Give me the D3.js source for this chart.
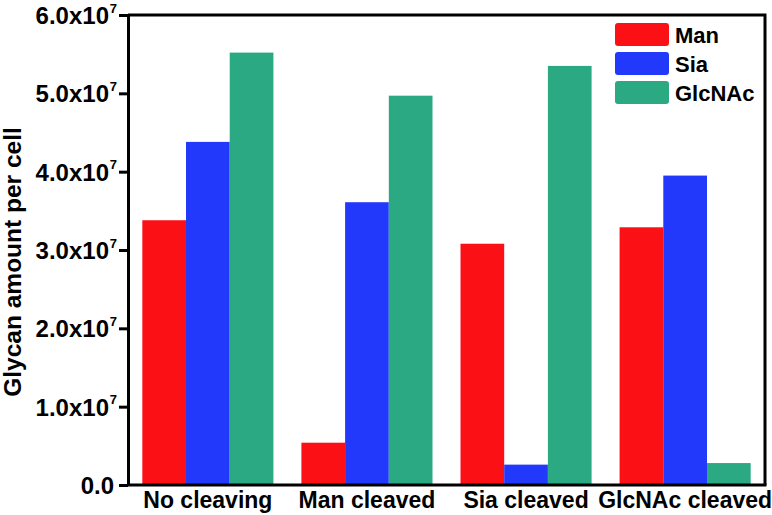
<!DOCTYPE html>
<html>
<head>
<meta charset="utf-8">
<script src="https://cdn.jsdelivr.net/npm/d3@7"></script>
<style>
  body { margin: 0; background: #fff; }
  text { font-family: "Liberation Sans", Arial, sans-serif; font-weight: bold; fill: #000; }
</style>
</head>
<body>
<svg id="chart" width="772" height="515"></svg>
<script>
// DATA
var groups = ['No cleaving', 'Man cleaved', 'Sia cleaved', 'GlcNAc cleaved'];
var seriesNames = ['Man', 'Sia', 'GlcNAc'];
var manValues = [3.38e7, 0.54e7, 3.08e7, 3.29e7];
var siaValues = [4.38e7, 3.61e7, 0.26e7, 3.95e7];
var glcnacValues = [5.52e7, 4.97e7, 5.35e7, 0.28e7];
var yTicks = [0, 1e7, 2e7, 3e7, 4e7, 5e7, 6e7];
var colors = ['#fb1016', '#2238fb', '#2aa982'];

var seriesValues = [manValues, siaValues, glcnacValues];

// build table
var tableData = groups.map(function(g, i) {
  return {
    group: g,
    values: seriesNames.map(function(s, j) { return { key: s, value: seriesValues[j][i] }; })
  };
});

var svg = d3.select('#chart');
var margin = { top: 15, right: 7, bottom: 30, left: 128 };
var W = 772, H = 515;
var width = W - margin.left - margin.right;
var height = H - margin.top - margin.bottom;

var g = svg.append('g')
  .attr('transform', 'translate(' + margin.left + ',' + margin.top + ')');

// SCALES
var x0 = d3.scaleBand()
  .domain(groups)
  .range([0, width])
  .paddingInner(0.176)
  .paddingOuter(0.09);

var x1 = d3.scaleBand()
  .domain(seriesNames)
  .range([0, x0.bandwidth()])
  .padding(0);

var y = d3.scaleLinear()
  .domain([0, 6e7])
  .range([height, 0]);

var color = d3.scaleOrdinal().domain(seriesNames).range(colors);

// BARS
var grp = g.selectAll('.grp')
  .data(tableData)
  .enter().append('g')
  .attr('class', 'grp')
  .attr('transform', function(d) { return 'translate(' + x0(d.group) + ',0)'; });

grp.selectAll('rect')
  .data(function(d) { return d.values; })
  .enter().append('rect')
  .attr('x', function(d) { return x1(d.key); })
  .attr('y', function(d) { return y(d.value); })
  .attr('width', x1.bandwidth())
  .attr('height', function(d) { return height - y(d.value); })
  .attr('fill', function(d) { return color(d.key); });

// FRAME (top + right)
g.append('path')
  .attr('d', 'M0,0H' + width + 'V' + height)
  .attr('fill', 'none')
  .attr('stroke', '#000')
  .attr('stroke-width', 3);

// bottom axis line
g.append('line')
  .attr('x1', 0).attr('x2', width + 1.5)
  .attr('y1', height).attr('y2', height)
  .attr('stroke', '#000')
  .attr('stroke-width', 3);

// Y AXIS
var yAxis = g.append('g')
  .attr('class', 'axis axis--y')
  .call(d3.axisLeft(y).tickValues(yTicks).tickSize(9).tickSizeOuter(0).tickFormat(''));

yAxis.select('.domain').attr('stroke-width', 3);
yAxis.selectAll('.tick line').attr('stroke-width', 3);

yAxis.selectAll('.tick').each(function(d) {
  var t = d3.select(this).append('text')
    .attr('x', d === 0 ? -14 : -19)
    .attr('dy', '0.36em')
    .attr('text-anchor', 'end')
    .style('font-size', '24px');
  if (d === 0) {
    t.text('0.0');
  } else {
    t.text((d / 1e7).toFixed(1) + 'x10');
    d3.select(this).append('text')
      .attr('x', -11)
      .attr('y', -3)
      .attr('text-anchor', 'end')
      .style('font-size', '13px')
      .text('7');
  }
});

// X LABELS
g.selectAll('.xlabel')
  .data(groups)
  .enter().append('text')
  .attr('class', 'xlabel')
  .attr('x', function(d) { return x0(d) + x0.bandwidth() / 2; })
  .attr('y', height + 23)
  .attr('text-anchor', 'middle')
  .style('font-size', '23px')
  .text(function(d) { return d; });

// Y TITLE
svg.append('text')
  .attr('transform', 'translate(21,262) rotate(-90)')
  .attr('text-anchor', 'middle')
  .style('font-size', '24.5px')
  .text('Glycan amount per cell');

// LEGEND
var legend = svg.append('g')
  .attr('transform', 'translate(615,23)');

var item = legend.selectAll('.item')
  .data(seriesNames)
  .enter().append('g')
  .attr('class', 'item')
  .attr('transform', function(d, i) { return 'translate(0,' + (i * 29) + ')'; });

item.append('rect')
  .attr('width', 54)
  .attr('height', 23)
  .attr('rx', 3)
  .attr('fill', function(d) { return color(d); });

item.append('text')
  .attr('x', 60)
  .attr('y', 19.5)
  .style('font-size', '22px')
  .text(function(d) { return d; });
</script>
</body>
</html>
